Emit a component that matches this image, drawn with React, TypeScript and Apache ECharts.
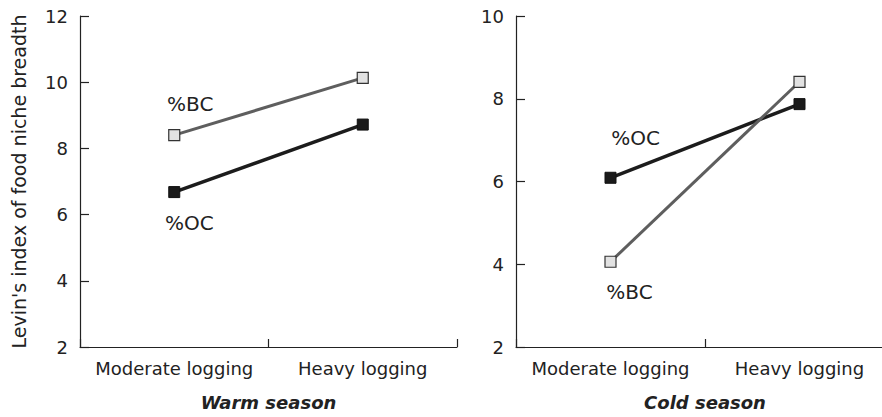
import React, { useEffect, useRef } from "react";
import * as echarts from "echarts";

const categories = ["Moderate logging", "Heavy logging"];
const warmBC = [8.4, 10.13];
const warmOC = [6.68, 8.72];
const coldBC = [4.06, 8.41];
const coldOC = [6.09, 7.87];
const panelTitles = ["Warm season", "Cold season"];
const yName = "Levin's index of food niche breadth";

const FONT = "DejaVu Sans";
const TXT = "#222";

export default function App() {
  const ref = useRef<HTMLDivElement>(null);
  useEffect(() => {
    if (!ref.current) return;
    document.body.style.overflow = "hidden";
    const chart = echarts.init(ref.current, undefined, { renderer: "svg" });

    const axisLine = { show: true, lineStyle: { color: "#222", width: 1.2 } };
    const axisTick = { show: true, inside: true, length: 8, lineStyle: { color: "#222", width: 1.2 } };

    const xAxis = (gi: number) => ({
      type: "category",
      gridIndex: gi,
      data: categories,
      boundaryGap: true,
      axisLine,
      axisTick: { ...axisTick, alignWithLabel: false, interval: 0 },
      axisLabel: { color: TXT, fontSize: 18, fontFamily: FONT, margin: 12, interval: 0, hideOverlap: false },
      name: panelTitles[gi],
      nameLocation: "middle",
      nameGap: 46,
      nameTextStyle: { color: TXT, fontSize: 18, fontFamily: FONT, fontWeight: "bold", fontStyle: "italic" },
      splitLine: { show: false },
    });

    const yAxis = (gi: number, max: number) => ({
      type: "value",
      gridIndex: gi,
      min: 2,
      max,
      interval: 2,
      axisLine,
      axisTick: { ...axisTick, length: 9 },
      axisLabel: { color: TXT, fontSize: 18, fontFamily: FONT, margin: 12 },
      splitLine: { show: false },
      ...(gi === 0
        ? {
            name: yName,
            nameLocation: "middle",
            nameGap: 52,
            nameTextStyle: { color: TXT, fontSize: 19, fontFamily: FONT },
          }
        : {}),
    });

    const lbl = (text: string, dx: number, dy: number) => ({
      show: true,
      position: "inside",
      offset: [dx, dy],
      formatter: text,
      color: TXT,
      fontSize: 20,
      fontFamily: FONT,
    });

    const ocSeries = (gi: number, data: number[], label: any) => ({
      type: "line",
      xAxisIndex: gi,
      yAxisIndex: gi,
      data: data.map((v, i) => (i === 0 ? { value: v, label } : v)),
      symbol: "rect",
      symbolSize: 11,
      lineStyle: { color: "#1c1c1c", width: 3.5 },
      itemStyle: { color: "#1a1a1a", borderColor: "#111", borderWidth: 1 },
      label: { show: false },
      z: 2,
    });
    const bcSeries = (gi: number, data: number[], label: any) => ({
      type: "line",
      xAxisIndex: gi,
      yAxisIndex: gi,
      data: data.map((v, i) => (i === 0 ? { value: v, label } : v)),
      symbol: "rect",
      symbolSize: 11,
      lineStyle: { color: "#5e5e5e", width: 3 },
      itemStyle: { color: "#e2e2e2", borderColor: "#333", borderWidth: 1.2 },
      label: { show: false },
      z: 3,
    });

    chart.setOption({
      animation: false,
      backgroundColor: "#fff",
      textStyle: { fontFamily: FONT },
      grid: [
        { left: 80, top: 16, width: 377, height: 331 },
        { left: 516, top: 16, width: 378, height: 331 },
      ],
      xAxis: [xAxis(0), xAxis(1)],
      yAxis: [yAxis(0, 12), yAxis(1, 10)],
      series: [
        ocSeries(0, warmOC, lbl("%OC", 15, 31)),
        bcSeries(0, warmBC, lbl("%BC", 16, -31)),
        ocSeries(1, coldOC, lbl("%OC", 25, -40)),
        bcSeries(1, coldBC, lbl("%BC", 19, 30)),
      ],
    });
    return () => chart.dispose();
  }, []);
  return (
    <div
      ref={ref}
      style={{ position: "fixed", left: 0, top: 0, width: 904, height: 417, background: "#fff" }}
    />
  );
}
